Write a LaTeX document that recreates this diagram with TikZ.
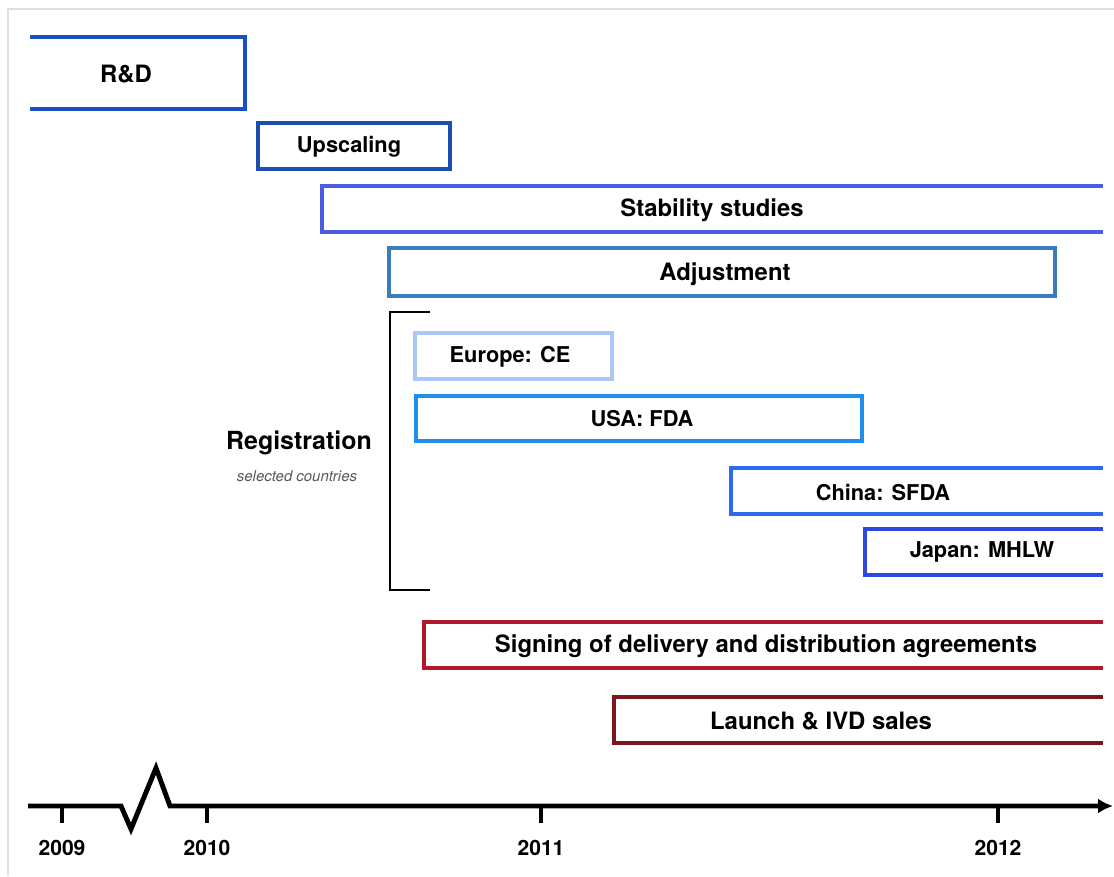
\documentclass[tikz,border=0pt]{standalone}
\usepackage{fontspec}
\setmainfont{TeX Gyre Heros}
\usepackage{tikz}
\usetikzlibrary{arrows.meta}

\definecolor{rdblue}{HTML}{1A4FC6}
\definecolor{upblue}{HTML}{1B4DB3}
\definecolor{stabblue}{HTML}{4A5CE4}
\definecolor{adjblue}{HTML}{3A7DBE}
\definecolor{eublue}{HTML}{A9C8F6}
\definecolor{usablue}{HTML}{1E8EEF}
\definecolor{cnblue}{HTML}{2F6AEE}
\definecolor{jpblue}{HTML}{2C48E0}
\definecolor{signred}{HTML}{B0192B}
\definecolor{launchred}{HTML}{7B1520}

\begin{document}
\begin{tikzpicture}[x=0.02cm, y=-0.02cm,
        every node/.append style={inner sep=0pt},
        bar/.style={line width=2.3pt},
        big/.style={font=\fontsize{13.6}{16}\selectfont\bfseries},
        small/.style={font=\fontsize{12.4}{15}\selectfont\bfseries},
        year/.style={font=\fontsize{12}{14}\selectfont\bfseries}]
        \useasboundingbox (0,0) rectangle (1114,876);
        \draw [gray!25, line width=0.8pt] (8,876) -- (8,9) -- (1114,9);

        % bars
        \draw [bar, rdblue] (30,37) -| (245,109) -- (30,109);
        \draw [bar, upblue] (258,123) rectangle (450,169);
        \draw [bar, stabblue] (1103,186) -| (322,232) -- (1103,232);
        \draw [bar, adjblue] (389,248) rectangle (1055,296);
        \draw [bar, eublue] (415,333) rectangle (612,379);
        \draw [bar, usablue] (416,396) rectangle (862,441);
        \draw [bar, cnblue] (1103,468) -| (731,514) -- (1103,514);
        \draw [bar, jpblue] (1103,529) -| (865,575) -- (1103,575);
        \draw [bar, signred] (1103,622) -| (424,668) -- (1103,668);
        \draw [bar, launchred] (1103,697) -| (614,743) -- (1103,743);

        \node [big] (RD) at (126,74) {R\&D};
        \node [small] (UP) at (349,147) {Upscaling};
        \node [big] (ST) at (712,210) {Stability studies};
        \node [big] (AD) at (725,274) {Adjustment};
        \node [small] (EU) at (510,357) {Europe: CE};
        \node [small] (US) at (642,419) {USA: FDA};
        \node [small] (CN) at (883,493) {China: SFDA};
        \node [small] (JP) at (982,552) {Japan: MHLW};
        \node [big] (SG) at (766,646) {Signing of delivery and distribution agreements};
        \node [big] (LA) at (821,721) {Launch \& IVD sales};

        % registration bracket
        \node [font=\fontsize{14.2}{16}\selectfont\bfseries] (REG) at (299,443) {Registration};
        \node [font=\fontsize{8.5}{10}\selectfont\itshape, text=black!65] (SEL) at (297,476) {selected countries};
        \draw [line width=1.4pt] (430,312) -- (390,312) -- (390,590) -- (430,590);

        % time axis
        \coordinate (A0) at (28,806);
        \coordinate (A1) at (1113,806);
        \draw [line width=2.8pt, line join=miter, -{Latex[length=0.3cm,width=0.3cm]}] (A0) -- (121,806) -- (131,829) -- (156,768) -- (170,806) -- (A1);
        \foreach \t/\y in {62/2009, 207/2010, 541/2011, 998/2012} {
            \draw [line width=2pt] (\t,806) -- (\t,823);
            \node [year] (Y\y) at (\t,848) {\y};
        }
    \end{tikzpicture}
\end{document}
